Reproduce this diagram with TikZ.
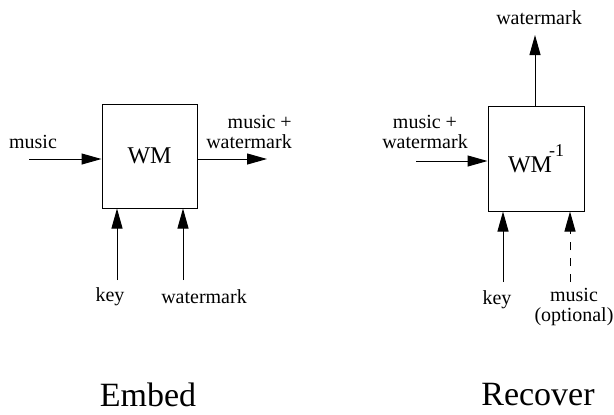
\documentclass[tikz,border=0pt]{standalone}
\usepackage{fontspec}
\setmainfont{Liberation Serif}
\usetikzlibrary{arrows.meta}

\begin{document}
\begin{tikzpicture}[x=0.5pt, y=-0.5pt,
        blk/.style={draw, line width=0.5pt, inner sep=0pt, minimum width=47.5pt, minimum height=52pt, font=\fontsize{12}{14}\selectfont},
        lbl/.style={inner sep=0pt, font=\fontsize{10}{10}\selectfont},
        ttl/.style={inner sep=0pt, font=\fontsize{17}{20}\selectfont},
        arr/.style={-{Triangle[length=10pt,width=5.5pt]}, line width=0.5pt}]
        \useasboundingbox (0,0) rectangle (614,414);
        % embed
        \node[blk] (wm) at (149.5,156) {WM};
        \node[lbl] (in1) at (33,142) {music};
        \node[lbl, align=right] (out1) at (249,132) {music +\\watermark};
        \coordinate (a1) at (29,159);
        \coordinate (b1) at (267,159);
        \coordinate (k1) at (117,280);
        \coordinate (w1) at (183,280);
        \draw[arr] (a1) -- (a1 -| wm.west);
        \draw[arr] (b1 -| wm.east) -- (b1);
        \draw[arr] (k1) -- (k1 |- wm.south);
        \draw[arr] (w1) -- (w1 |- wm.south);
        \node[lbl] (key1) at (110,297) {key};
        \node[lbl] (wmk1) at (204,297) {watermark};
        \node[ttl] (embed) at (148,395) {Embed};
        % recover
        \node[blk, minimum width=48pt, minimum height=52.5pt] (wminv) at (536,158.5) {WM\kern-1.5pt\raisebox{8pt}{\fontsize{9}{9}\selectfont -1}};
        \node[lbl, align=center] (in2) at (425,132) {music +\\watermark};
        \node[lbl] (wmk2) at (539,18) {watermark};
        \coordinate (a2) at (416,161);
        \coordinate (t2) at (535,35);
        \coordinate (k2) at (503,282);
        \coordinate (m2) at (570,282);
        \draw[arr] (a2) -- (a2 -| wminv.west);
        \draw[arr] (t2 |- wminv.north) -- (t2);
        \draw[arr] (k2) -- (k2 |- wminv.south);
        \draw[arr, dash pattern=on 4pt off 4pt] (m2) -- (m2 |- wminv.south);
        \node[lbl] (key2) at (497,300) {key};
        \node[lbl, align=center] (mus2) at (574,307) {music\\(optional)};
        \node[ttl] (rec) at (538,395) {Recover};
\end{tikzpicture}
\end{document}
